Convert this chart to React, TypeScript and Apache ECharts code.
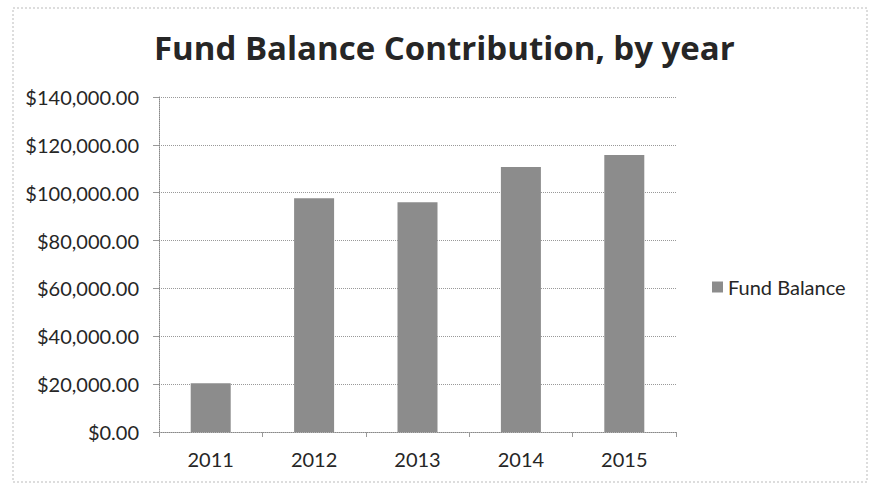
import React, { useEffect, useRef } from "react";
import * as echarts from "echarts";

const categories = ["2011", "2012", "2013", "2014", "2015"];
const fundBalance = [20400, 97700, 96000, 110700, 115800];
const seriesName = "Fund Balance";
const titleText = "Fund Balance Contribution, by year";

export default function App() {
  const ref = useRef<HTMLDivElement>(null);
  useEffect(() => {
    const chart = echarts.init(ref.current!, null, { renderer: "svg" });
    const font = "Lato, 'Open Sans', sans-serif";
    chart.setOption({
      animation: false,
      backgroundColor: "#ffffff",
      title: {
        text: titleText,
        left: 149,
        top: 26,
        textStyle: { fontFamily: "'Open Sans', sans-serif", fontSize: 33, fontWeight: "bold", color: "#262626" },
      },
      grid: { left: 159, right: 194, top: 97, bottom: 53, containLabel: false },
      legend: {
        data: [seriesName],
        orient: "vertical",
        left: 707,
        top: 272,
        itemWidth: 11,
        itemHeight: 11,
        icon: "rect",
        textStyle: { fontFamily: font, fontSize: 20, color: "#262626" },
      },
      xAxis: {
        type: "category",
        data: categories,
        axisLine: { lineStyle: { color: "#888", type: "dotted" } },
        axisTick: { show: true, alignWithLabel: false, length: 5, lineStyle: { color: "#999" } },
        axisLabel: { fontFamily: font, fontSize: 20, color: "#262626", margin: 17 },
      },
      yAxis: {
        type: "value",
        min: 0,
        max: 140000,
        interval: 20000,
        axisLine: { show: true, lineStyle: { color: "#888", type: "dotted" } },
        axisTick: { show: true, length: 6, lineStyle: { color: "#999" } },
        splitLine: { lineStyle: { color: "#999", type: "dotted", width: 1 } },
        axisLabel: {
          fontFamily: font,
          fontSize: 20,
          color: "#262626",
          margin: 20,
          formatter: (v: number) =>
            "$" + v.toLocaleString("en-US", { minimumFractionDigits: 2, maximumFractionDigits: 2 }),
        },
      },
      series: [
        {
          name: seriesName,
          type: "bar",
          data: fundBalance,
          barWidth: 40,
          itemStyle: { color: "#8c8c8c" },
        },
      ],
      graphic: [
        {
          type: "rect",
          shape: { x: 13, y: 8, width: 854, height: 474 },
          style: { fill: "none", stroke: "#bbb", lineWidth: 1, lineDash: [2, 2] },
          silent: true,
        },
      ],
    });
    return () => chart.dispose();
  }, []);
  return (
    <div
      ref={ref}
      style={{ position: "absolute", left: 0, top: 0, width: 870, height: 485 }}
    />
  );
}
